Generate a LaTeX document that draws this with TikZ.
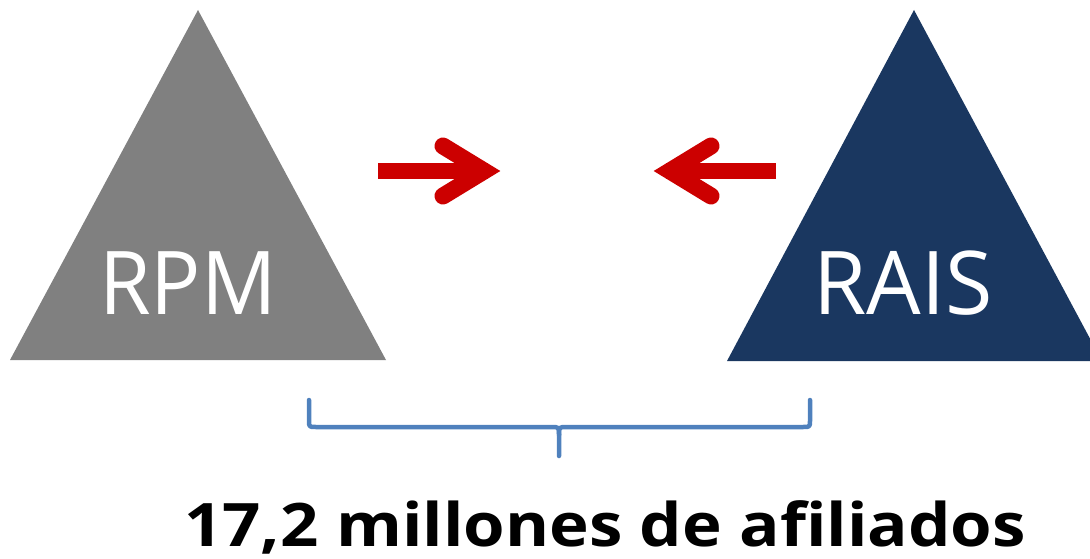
\documentclass[tikz,border=0pt]{standalone}
\usepackage{fontspec}
\setmainfont{Open Sans}
\definecolor{tgray}{HTML}{808080}
\definecolor{tnavy}{HTML}{1A3760}
\definecolor{ared}{HTML}{CC0000}
\definecolor{bblue}{HTML}{4F81BD}
\tikzset{
  shaftline/.style={draw=ared, line width=16pt, line cap=butt},
  headline/.style={draw=ared, line width=17pt, line cap=round, line join=miter},
  bracepath/.style={draw=bblue, line width=4.5pt, line cap=round, line join=round},
  tritext/.style={text=white, font=\fontsize{88}{88}\selectfont, inner sep=0pt, anchor=base},
}
\begin{document}
\begin{tikzpicture}[x=1pt,y=-1pt]
\useasboundingbox (0,0) rectangle (1090,559);
\clip (0,0) rectangle (1090,559);
% triangles
\fill[tgray] (198,10) coordinate (rpmtop) -- (386,360) -- (10,360) -- cycle;
\fill[tnavy] (914,10) coordinate (raistop) -- (1102,361) -- (727,361) -- cycle;
\node[tritext, xscale=0.95] (rpm) at (188,314) {RPM};
\node[tritext, xscale=0.98] (rais) at (903,314) {RAIS};
% arrows
\coordinate (la) at (378,171);
\coordinate (lb) at (488,171);
\draw[shaftline] (la) -- (lb);
\draw[headline] (443,146) -- (484,171) -- (443,196);
\coordinate (ra) at (776,171);
\coordinate (rb) at (666,171);
\draw[shaftline] (ra) -- (rb);
\draw[headline] (711,146) -- (670,171) -- (711,196);
% brace
\coordinate (bl) at (309,400);
\coordinate (br) at (810,400);
\coordinate (bt) at (559,456);
\draw[bracepath] (bl) -- (309,420) .. controls (309,427) .. (316,427) -- (551,427)
  .. controls (559,427) .. (559,435) -- (bt);
\draw[bracepath] (br) -- (810,420) .. controls (810,427) .. (803,427) -- (567,427)
  .. controls (559,427) .. (559,435);
% label
\node[font=\bfseries\fontsize{60}{60}\selectfont, inner sep=0pt, anchor=base, xscale=1.12] (lbl) at (605,546) {17,2 millones de afiliados};
\end{tikzpicture}
\end{document}
